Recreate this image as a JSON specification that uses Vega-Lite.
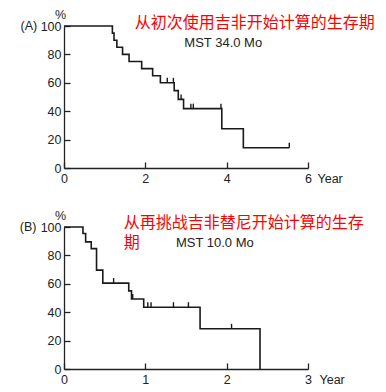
{
  "$schema": "https://vega.github.io/schema/vega-lite/v6.json",
  "padding": {"left": 19, "top": 8, "right": 5, "bottom": 5},
  "background": "white",
  "spacing": 59,
  "bounds": "flush",
  "config": {
    "view": {"stroke": null},
    "font": "Liberation Sans",
    "axis": {
      "domainColor": "#222", "domainWidth": 1.3,
      "tickColor": "#222", "tickWidth": 1.3,
      "labelFont": "Liberation Sans", "labelFontSize": 12.5, "labelColor": "#222",
      "grid": false,
      "titleFont": "Liberation Sans", "titleFontSize": 12.5, "titleFontWeight": "normal", "titleColor": "#222", "titleAngle": 0
    }
  },
  "datasets": {
    "curveA": [
      {"year": 0, "pct": 100}, {"year": 1.19, "pct": 95}, {"year": 1.23, "pct": 90},
      {"year": 1.30, "pct": 85}, {"year": 1.44, "pct": 80}, {"year": 1.60, "pct": 75},
      {"year": 1.91, "pct": 70}, {"year": 2.18, "pct": 65}, {"year": 2.37, "pct": 60},
      {"year": 2.71, "pct": 54.5}, {"year": 2.81, "pct": 48.3}, {"year": 2.94, "pct": 41.8},
      {"year": 3.88, "pct": 27.6}, {"year": 4.41, "pct": 14.3}, {"year": 5.54, "pct": 14.3}
    ],
    "censorA": [
      {"year": 2.54, "pct": 60}, {"year": 2.69, "pct": 60}, {"year": 2.88, "pct": 48.3},
      {"year": 3.12, "pct": 41.8}, {"year": 3.18, "pct": 41.8}, {"year": 3.86, "pct": 41.8},
      {"year": 5.54, "pct": 14.3}
    ],
    "curveB": [
      {"year": 0, "pct": 100}, {"year": 0.233, "pct": 95.4}, {"year": 0.266, "pct": 89.5},
      {"year": 0.335, "pct": 84.8}, {"year": 0.40, "pct": 69.6}, {"year": 0.477, "pct": 60.5},
      {"year": 0.796, "pct": 55.0}, {"year": 0.83, "pct": 49.3}, {"year": 0.98, "pct": 43.5},
      {"year": 1.673, "pct": 28.3}, {"year": 2.41, "pct": 0}
    ],
    "censorB": [
      {"year": 0.61, "pct": 60.5}, {"year": 0.845, "pct": 49.3}, {"year": 1.03, "pct": 43.5},
      {"year": 1.07, "pct": 43.5}, {"year": 1.346, "pct": 43.5}, {"year": 1.53, "pct": 43.5},
      {"year": 2.06, "pct": 28.3}
    ]
  },
  "vconcat": [
    {
      "width": 244, "height": 142,
      "layer": [
        {
          "data": {"name": "curveA"},
          "mark": {"type": "line", "interpolate": "step-after", "color": "#1a1a1a", "strokeWidth": 1.6},
          "encoding": {
            "x": {"field": "year", "type": "quantitative", "scale": {"domain": [0, 6]},
                  "axis": {"values": [0, 2, 4, 6], "format": "d", "tickSize": -6, "labelOverlap": false, "labelFlush": false, "title": "Year", "titleX": 253, "titleY": 10, "titleAlign": "left", "titleBaseline": "middle", "labelPadding": 10}},
            "y": {"field": "pct", "type": "quantitative", "scale": {"domain": [0, 100]},
                  "axis": {"tickCount": 5, "format": "d", "tickSize": -6, "labelOverlap": false, "labelFlush": false, "title": "%", "titleX": -4, "titleY": -12, "titleAlign": "center", "titleBaseline": "middle", "labelPadding": 9}}
          }
        },
        {
          "data": {"name": "censorA"},
          "mark": {"type": "point", "shape": "M0,-1L0,0", "size": 100, "filled": false, "stroke": "#1a1a1a", "strokeWidth": 1.4, "opacity": 1},
          "encoding": {"x": {"field": "year", "type": "quantitative"}, "y": {"field": "pct", "type": "quantitative"}}
        },
        {
          "data": {"values": [{"label": "(A)"}]},
          "mark": {"type": "text", "align": "right", "baseline": "middle", "fontSize": 12.5, "color": "#222", "font": "Liberation Sans"},
          "encoding": {"x": {"datum": -0.66}, "y": {"datum": 100}, "text": {"field": "label"}}
        },
        {
          "data": {"values": [{"label": "从初次使用吉非开始计算的生存期"}]},
          "mark": {"type": "text", "align": "left", "baseline": "middle", "fontSize": 16, "color": "#ff0000", "font": "Noto Sans CJK SC"},
          "encoding": {"x": {"datum": 1.74}, "y": {"datum": 102.3}, "text": {"field": "label"}}
        },
        {
          "data": {"values": [{"label": "MST  34.0 Mo"}]},
          "mark": {"type": "text", "align": "left", "baseline": "middle", "fontSize": 13, "color": "#222", "font": "Liberation Sans"},
          "encoding": {"x": {"datum": 2.96}, "y": {"datum": 88.3}, "text": {"field": "label"}}
        }
      ]
    },
    {
      "width": 244, "height": 142,
      "layer": [
        {
          "data": {"name": "curveB"},
          "mark": {"type": "line", "interpolate": "step-after", "color": "#1a1a1a", "strokeWidth": 1.6},
          "encoding": {
            "x": {"field": "year", "type": "quantitative", "scale": {"domain": [0, 3]},
                  "axis": {"values": [0, 1, 2, 3], "format": "d", "tickSize": -6, "labelOverlap": false, "labelFlush": false, "title": "Year", "titleX": 255, "titleY": 10, "titleAlign": "left", "titleBaseline": "middle", "labelPadding": 10}},
            "y": {"field": "pct", "type": "quantitative", "scale": {"domain": [0, 100]},
                  "axis": {"tickCount": 5, "format": "d", "tickSize": -6, "labelOverlap": false, "labelFlush": false, "title": "%", "titleX": -4, "titleY": -12, "titleAlign": "center", "titleBaseline": "middle", "labelPadding": 9}}
          }
        },
        {
          "data": {"name": "censorB"},
          "mark": {"type": "point", "shape": "M0,-1L0,0", "size": 100, "filled": false, "stroke": "#1a1a1a", "strokeWidth": 1.4, "opacity": 1},
          "encoding": {"x": {"field": "year", "type": "quantitative"}, "y": {"field": "pct", "type": "quantitative"}}
        },
        {
          "data": {"values": [{"label": "(B)"}]},
          "mark": {"type": "text", "align": "right", "baseline": "middle", "fontSize": 12.5, "color": "#222", "font": "Liberation Sans"},
          "encoding": {"x": {"datum": -0.338}, "y": {"datum": 100}, "text": {"field": "label"}}
        },
        {
          "data": {"values": [{"label": "从再挑战吉非替尼开始计算的生存"}]},
          "mark": {"type": "text", "align": "left", "baseline": "middle", "fontSize": 16, "color": "#ff0000", "font": "Noto Sans CJK SC"},
          "encoding": {"x": {"datum": 0.734}, "y": {"datum": 102.8}, "text": {"field": "label"}}
        },
        {
          "data": {"values": [{"label": "期"}]},
          "mark": {"type": "text", "align": "left", "baseline": "middle", "fontSize": 16, "color": "#ff0000", "font": "Noto Sans CJK SC"},
          "encoding": {"x": {"datum": 0.734}, "y": {"datum": 88.6}, "text": {"field": "label"}}
        },
        {
          "data": {"values": [{"label": "MST  10.0 Mo"}]},
          "mark": {"type": "text", "align": "left", "baseline": "middle", "fontSize": 13, "color": "#222", "font": "Liberation Sans"},
          "encoding": {"x": {"datum": 1.376}, "y": {"datum": 88.4}, "text": {"field": "label"}}
        }
      ]
    }
  ]
}
